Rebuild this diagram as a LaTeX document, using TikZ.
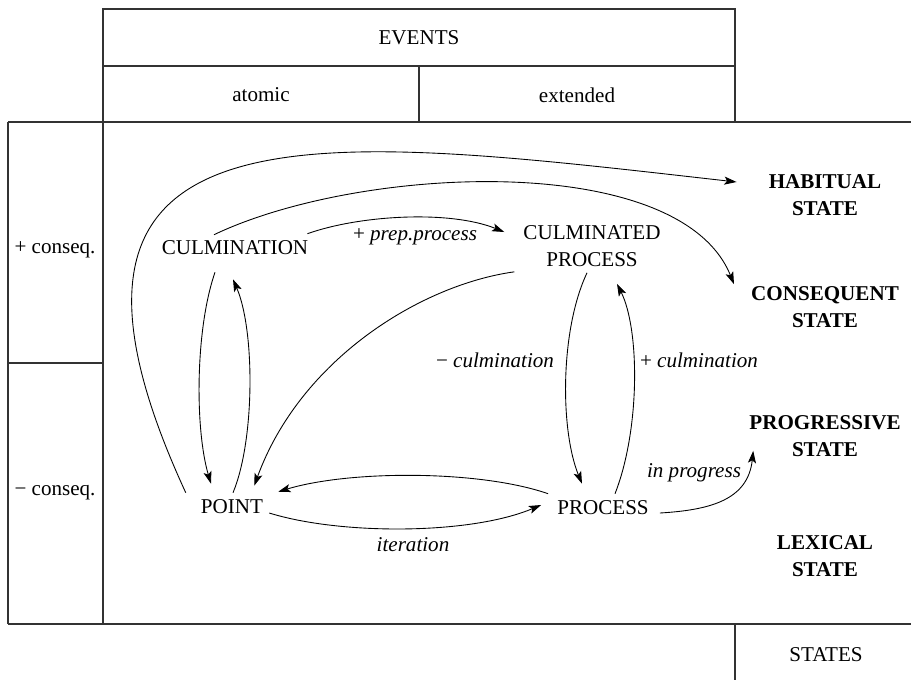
\documentclass[tikz,border=0pt]{standalone}
\usepackage{fontspec}
\setmainfont{Liberation Serif}
\usetikzlibrary{arrows.meta}
\tikzset{
  frame/.style={draw=black!80, line width=0.7pt},
  arr/.style={-{Stealth[length=7pt,width=4.6pt,inset=1.6pt]}, line width=0.5pt},
  cat/.style={font=\fontsize{12}{15.4}\selectfont, align=center},
  st/.style={font=\fontsize{12}{15.4}\selectfont\bfseries, align=center},
  lab/.style={font=\fontsize{12}{15.4}\selectfont\itshape},
}
\begin{document}
\begin{tikzpicture}[x=0.02cm, y=-0.02cm]
\useasboundingbox (0,0) rectangle (911,680);
% table
\draw[frame] (103,9) rectangle (735,122);
\draw[frame] (103,66) -- (735,66) (419,66) -- (419,122);
\draw[frame] (8,122) -- (911,122) (8,624) -- (911,624) (8,122) -- (8,624) (103,122) -- (103,624);
\draw[frame] (8,363) -- (103,363) (735,624) -- (735,680);
\node[cat] (events) at (419,38) {EVENTS};
\node[cat] (atomic) at (261,95) {atomic};
\node[cat] (extended) at (577,95) {extended};
\node[cat] (plus) at (55,250) {+ conseq.};
\node[cat] (minus) at (55,493) {− conseq.};
\node[cat] (states) at (826,655) {STATES};
% events
\node[cat] (culm) at (235,248) {CULMINATION};
\node[cat] (culmproc) at (592,246) {CULMINATED\\PROCESS};
\node[cat] (point) at (232,507) {POINT};
\node[cat] (process) at (603,508) {PROCESS};
% states
\foreach \nm/\yy/\txt in {habitual/195/HABITUAL, consequent/307/CONSEQUENT, progressive/436/PROGRESSIVE, lexical/556/LEXICAL}
  \node[st] (\nm) at (825,\yy) {\txt\\STATE};
% transitions
\draw[arr] ([shift={(-9,-1)}]point.north west) .. controls (0,90) and (320,135) .. ([shift={(-26,-13)}]habitual.west);
\draw[arr] ([shift={(-21,0)}]culm.north) .. controls (360,165) and (680,150) .. ([shift={(-11,4)}]consequent.north west);
\draw[arr] ([shift={(-7,-1)}]culm.north east) .. controls (360,215) and (450,210) .. ([shift={(-13,-14)}]culmproc.west);
\draw[arr] ([shift={(-3,-1)}]culmproc.south west) .. controls (420,285) and (300,360) .. ([shift={(-15,-8)}]point.north east);
\draw[arr] ([shift={(-20,11)}]culm.south) .. controls (195,330) and (195,430) .. ([shift={(-21,-10)}]point.north);
\draw[arr] ([shift={(1,-1)}]point.north) .. controls (255,440) and (255,330) .. ([shift={(-2,18)}]culm.south);
\draw[arr] ([shift={(-3,-1)}]process.north west) .. controls (480,470) and (350,470) .. ([shift={(9,-2)}]point.north east);
\draw[arr] ([shift={(0,6)}]point.east) .. controls (340,535) and (470,535) .. ([shift={(-10,-3)}]process.west);
\draw[arr] ([shift={(-5,0)}]culmproc.south) .. controls (560,330) and (560,430) .. ([shift={(-21,-11)}]process.north);
\draw[arr] ([shift={(12,-1)}]process.north) .. controls (640,430) and (640,330) .. ([shift={(25,11)}]culmproc.south);
\draw[arr] ([shift={(5,5)}]process.east) .. controls (710,510) and (748,500) .. ([shift={(10,-12)}]progressive.south west);
% labels
\node[lab] (prep) at (415,237) {\textup{+} prep.process};
\node[lab] (minuscul) at (495,360) {\textup{−} culmination};
\node[lab] (pluscul) at (699,360) {\textup{+} culmination};
\node[lab] (iter) at (413,545) {iteration};
\node[lab] (inprog) at (694,473) {in progress};
\end{tikzpicture}
\end{document}
